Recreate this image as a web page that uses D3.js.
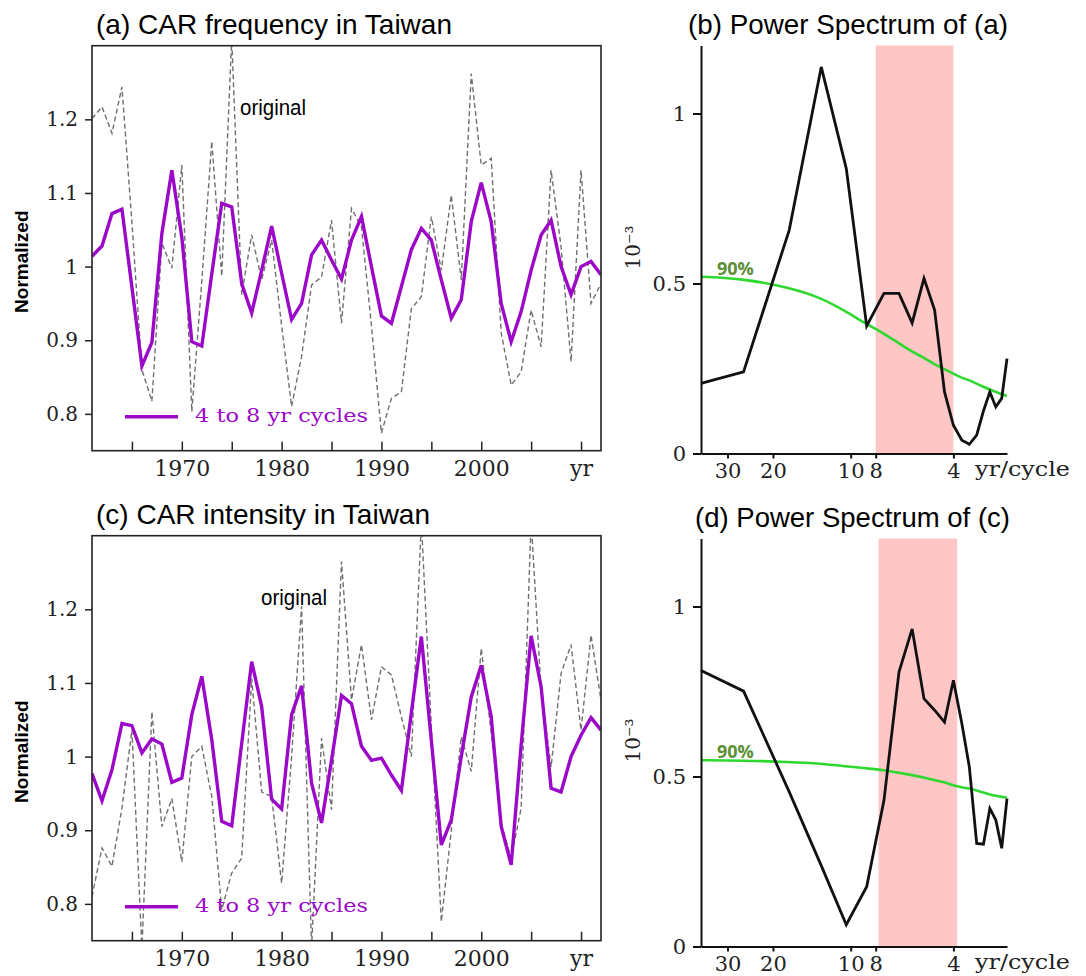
<!DOCTYPE html>
<html>
<head>
<meta charset="utf-8">
<script src="https://cdn.jsdelivr.net/npm/d3@7"></script>
<style>
  body { margin: 0; background: #fff; }
  svg { display: block; }
</style>
</head>
<body>
<script>
// years of the CAR series
const years = d3.range(1961, 2013);

// (a) CAR frequency, normalized
const freqOriginal = [
  1.201, 1.217, 1.181, 1.244, 1.06, 0.86, 0.817, 1.032, 0.998, 1.138,
  0.803, 0.98, 1.170, 0.987, 1.31, 0.962, 1.043, 0.982, 1.036, 0.92,
  0.810, 0.878, 0.975, 0.986, 1.063, 0.923, 1.079, 1.054, 0.92, 0.774,
  0.821, 0.830, 0.943, 0.959, 1.068, 0.995, 1.097, 0.982, 1.262, 1.138,
  1.147, 0.910, 0.839, 0.857, 0.941, 0.891, 1.131, 1.027, 0.871, 1.131,
  0.950, 0.977
];
const freqFiltered = [
  1.014, 1.028, 1.072, 1.078, 0.972, 0.865, 0.897, 1.045, 1.131, 1.04,
  0.898, 0.892, 0.99, 1.086, 1.081, 0.977, 0.937, 0.995, 1.055, 0.991,
  0.928, 0.950, 1.016, 1.036, 1.009, 0.983, 1.036, 1.068, 1.0, 0.933,
  0.923, 0.973, 1.023, 1.052, 1.036, 0.982, 0.930, 0.955, 1.061, 1.114,
  1.061, 0.950, 0.898, 0.939, 0.995, 1.043, 1.063, 1.0, 0.962, 1.0,
  1.007, 0.989
];

// (c) CAR intensity, normalized
const intOriginal = [
  0.810, 0.876, 0.851, 0.93, 1.036, 0.74, 1.061, 0.905, 0.943, 0.857,
  1.0, 1.014, 0.946, 0.792, 0.842, 0.862, 1.106, 0.952, 0.946, 0.828,
  1.0, 1.204, 0.74, 1.025, 0.928, 1.265, 1.077, 1.152, 1.050, 1.122,
  1.111, 1.054, 1.0, 1.32, 1.04, 0.776, 0.9, 1.027, 0.980, 1.147,
  1.032, 0.910, 0.862, 0.93, 1.32, 1.09, 0.986, 1.113, 1.152, 1.036,
  1.165, 1.077
];
const intFiltered = [
  0.977, 0.940, 0.982, 1.045, 1.042, 1.005, 1.024, 1.017, 0.965, 0.971,
  1.057, 1.109, 1.023, 0.912, 0.906, 1.018, 1.129, 1.068, 0.942, 0.929,
  1.057, 1.096, 0.964, 0.910, 0.995, 1.083, 1.072, 1.014, 0.995, 0.998,
  0.975, 0.954, 1.06, 1.163, 1.022, 0.880, 0.914, 1.0, 1.081, 1.124,
  1.054, 0.905, 0.853, 1.016, 1.164, 1.095, 0.957, 0.952, 1.0, 1.029,
  1.053, 1.036
];

// power spectra (x: yr/cycle, y: 10^-3)
const periods = [38, 26, 17.3, 13, 10.4, 8.67, 7.43, 6.5, 5.78, 5.2, 4.73, 4.33, 4, 3.71, 3.47, 3.25, 3.06, 2.89, 2.74, 2.6, 2.48];
const freqPower = [0.206, 0.240, 0.657, 1.137, 0.838, 0.375, 0.471, 0.471, 0.384, 0.515, 0.422, 0.181, 0.083, 0.039, 0.027, 0.054, 0.125, 0.181, 0.137, 0.162, 0.279];
const freqSig90 = [0.520, 0.514, 0.488, 0.458, 0.417, 0.380, 0.353, 0.324, 0.299, 0.282, 0.262, 0.248, 0.235, 0.222, 0.216, 0.205, 0.196, 0.188, 0.181, 0.175, 0.169];
const intPower = [0.812, 0.751, 0.455, 0.238, 0.064, 0.176, 0.430, 0.807, 0.934, 0.729, 0.695, 0.660, 0.783, 0.656, 0.528, 0.303, 0.301, 0.406, 0.372, 0.289, 0.435];
const intSig90 = [0.548, 0.547, 0.543, 0.538, 0.530, 0.524, 0.519, 0.511, 0.504, 0.497, 0.489, 0.484, 0.473, 0.468, 0.465, 0.459, 0.453, 0.447, 0.443, 0.440, 0.438];
const freqBand = [8, 4];
const intBand = [7.8, 3.87];

// ticks
const yTicksSeries = [0.8, 0.9, 1.0, 1.1, 1.2];
const xTicksYears = [1965, 1970, 1975, 1980, 1985, 1990, 1995, 2000, 2005, 2010];
const yTicksPower = [0, 0.5, 1];
const xTicksPeriod = [30, 20, 10, 8, 4];

const purple = '#9b08c8';
const serif = "'DejaVu Serif', serif";
const sans = "'Liberation Sans', Arial, sans-serif";

const svg = d3.select('body')
    .append('svg')
    .attr('width', 1086)
    .attr('height', 976);

function drawSeries(top, title, titleLen, original, filtered, origX) {
    const x = d3.scaleLinear().domain([1961, 2012]).range([92, 601]);
    const y = d3.scaleLinear().domain([0.75, 1.3]).range([top + 405, top]);
    const g = svg.append('g');
    const clipId = 'clip' + Math.round(top);

    svg.append('clipPath').attr('id', clipId)
        .append('rect')
        .attr('x', 92).attr('y', top)
        .attr('width', 509).attr('height', 405);

    const line = d3.line().x((d, i) => x(years[i])).y(d => y(d));

    g.append('path')
        .datum(original)
        .attr('clip-path', `url(#${clipId})`)
        .attr('d', line)
        .attr('fill', 'none')
        .attr('stroke', '#707070')
        .attr('stroke-width', 1.4)
        .attr('stroke-dasharray', '5,3');

    g.append('path')
        .datum(filtered)
        .attr('clip-path', `url(#${clipId})`)
        .attr('d', line)
        .attr('fill', 'none')
        .attr('stroke', purple)
        .attr('stroke-width', 3.4)
        .attr('stroke-linejoin', 'miter');

    // frame
    g.append('rect')
        .attr('x', 92).attr('y', top)
        .attr('width', 509).attr('height', 405)
        .attr('fill', 'none')
        .attr('stroke', '#222')
        .attr('stroke-width', 1.6);

    const yAxis = g.append('g')
        .attr('transform', 'translate(92,0)')
        .call(d3.axisLeft(y).tickValues(yTicksSeries).tickSize(7).tickPadding(7)
            .tickFormat(d => d === 1 ? '1' : d.toFixed(1)));
    yAxis.select('.domain').remove();
    yAxis.selectAll('line').attr('stroke', '#222').attr('stroke-width', 1.5);
    yAxis.selectAll('text').attr('font-family', serif).attr('font-size', 20).attr('fill', '#222');

    const xAxis = g.append('g')
        .attr('transform', `translate(0,${top + 405})`)
        .call(d3.axisBottom(x).tickValues(xTicksYears).tickSize(-9).tickPadding(10)
            .tickFormat(d => d === 2010 ? 'yr' : (d % 10 === 0 ? d : '')));
    xAxis.select('.domain').remove();
    xAxis.selectAll('line').attr('stroke', '#222').attr('stroke-width', 1.5);
    xAxis.selectAll('text').attr('font-family', serif).attr('font-size', 22).attr('fill', '#222');

    // titles and labels
    svg.append('text')
        .attr('x', 96).attr('y', top - 12)
        .attr('font-family', sans).attr('font-size', 28)
        .attr('textLength', titleLen).attr('lengthAdjust', 'spacingAndGlyphs')
        .text(title);

    svg.append('text')
        .attr('transform', `translate(28,${top + 216}) rotate(-90)`)
        .attr('text-anchor', 'middle')
        .attr('font-family', sans).attr('font-weight', 'bold').attr('font-size', 19)
        .text('Normalized');

    svg.append('text')
        .attr('x', origX).attr('y', top + 69)
        .attr('font-family', sans).attr('font-size', 22)
        .attr('textLength', 66).attr('lengthAdjust', 'spacingAndGlyphs')
        .text('original');

    // legend
    g.append('line')
        .attr('x1', 125).attr('x2', 178)
        .attr('y1', top + 371).attr('y2', top + 371)
        .attr('stroke', purple).attr('stroke-width', 3.4);
    g.append('text')
        .attr('x', 195).attr('y', top + 376)
        .attr('font-family', serif).attr('font-size', 18)
        .attr('fill', purple)
        .attr('textLength', 173).attr('lengthAdjust', 'spacingAndGlyphs')
        .text('4 to 8 yr cycles');
}

function drawSpectrum(top, title, titleX, titleLen, power, sig, band) {
    const bottom = top + 408;
    const x = d3.scaleLog().domain([38, 2.48]).range([701, 1007]);
    const y = d3.scaleLinear().domain([0, 1.2]).range([bottom, top]);
    const g = svg.append('g');

    g.append('rect')
        .attr('x', x(band[0])).attr('y', top)
        .attr('width', x(band[1]) - x(band[0]))
        .attr('height', bottom - top)
        .attr('fill', '#ffc6c6');

    const line = d3.line().x((d, i) => x(periods[i])).y(d => y(d));

    g.append('path')
        .datum(sig)
        .attr('d', line.curve(d3.curveBasis))
        .attr('fill', 'none')
        .attr('stroke', '#2fd82f')
        .attr('stroke-width', 2.6);

    g.append('path')
        .datum(power)
        .attr('d', line.curve(d3.curveLinear))
        .attr('fill', 'none')
        .attr('stroke', '#111')
        .attr('stroke-width', 2.8)
        .attr('stroke-linejoin', 'miter');

    const yAxis = g.append('g')
        .attr('transform', 'translate(701,0)')
        .call(d3.axisLeft(y).tickValues(yTicksPower).tickSize(8).tickSizeOuter(0).tickPadding(7)
            .tickFormat(d => d === 0.5 ? '0.5' : String(d)));
    yAxis.selectAll('line, path').attr('stroke', '#111').attr('stroke-width', 2);
    yAxis.selectAll('text').attr('font-family', serif).attr('font-size', 21).attr('fill', '#222');

    const xAxis = g.append('g')
        .attr('transform', `translate(0,${bottom})`)
        .call(d3.axisBottom(x).tickValues(xTicksPeriod).tickSize(5).tickSizeOuter(0).tickPadding(5)
            .tickFormat(d => String(d)));
    xAxis.selectAll('line, path').attr('stroke', '#111').attr('stroke-width', 2);
    xAxis.selectAll('text').attr('font-family', serif).attr('font-size', 21).attr('fill', '#222');

    svg.append('text')
        .attr('x', 975).attr('y', bottom + 22)
        .attr('font-family', serif).attr('font-size', 20)
        .attr('textLength', 95).attr('lengthAdjust', 'spacingAndGlyphs')
        .attr('fill', '#222')
        .text('yr/cycle');

    svg.append('text')
        .attr('transform', `translate(640,${top + 202}) rotate(-90)`)
        .attr('text-anchor', 'middle')
        .attr('font-family', serif).attr('font-size', 20).attr('fill', '#222')
        .text('10⁻³');

    svg.append('text')
        .attr('x', 717).attr('y', y(sig[0]) - 2)
        .attr('font-family', "'Open Sans', sans-serif").attr('font-weight', 'bold')
        .attr('font-size', 18).attr('fill', '#5b8f35')
        .text('90%');

    svg.append('text')
        .attr('x', titleX).attr('y', top - 12)
        .attr('font-family', sans).attr('font-size', 28)
        .attr('textLength', titleLen).attr('lengthAdjust', 'spacingAndGlyphs')
        .text(title);
}

drawSeries(45.7, '(a) CAR frequency in Taiwan', 356, freqOriginal, freqFiltered, 240);
drawSpectrum(45.5, '(b) Power Spectrum of (a)', 688, 320, freqPower, freqSig90, freqBand);
drawSeries(535.7, '(c) CAR intensity in Taiwan', 334, intOriginal, intFiltered, 261);
drawSpectrum(538.5, '(d) Power Spectrum of (c)', 695, 315, intPower, intSig90, intBand);
</script>
</body>
</html>
